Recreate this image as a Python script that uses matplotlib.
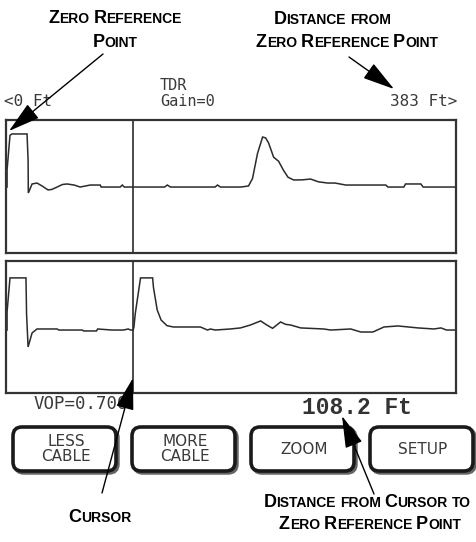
import matplotlib
import matplotlib.pyplot as plt
from matplotlib.patches import FancyBboxPatch

matplotlib.use('Agg')

W, H = 477, 542

# TDR traces: distance along cable (ft) and screen signal level (0-100)
top_ft = [0.9, 0.9, 3.4, 5.1, 17.9, 18.8, 19.0, 22.2, 26.4, 30.7, 35.8, 39.0, 43.5, 48.0, 52.0,
          58.0, 63.1, 71.7, 80.2, 81.0, 97.2, 99.0, 100.7, 135.0, 137.3, 139.9, 178.0, 180.0,
          182.5, 200.0, 206.4, 209.8, 214.1, 218.4, 221.0, 223.5, 227.8, 232.0, 236.3, 240.0,
          244.8, 252.0, 259.3, 266.0, 273.8, 280.0, 289.2, 323.3, 325.0, 338.6, 340.0, 353.1,
          355.0, 383.0]
top_lvl = [49.6, 62.4, 88.5, 89.5, 89.5, 70.0, 45.1, 51.9, 52.6, 50.4, 47.4, 47.8, 49.6, 51.5, 51.9,
           51.1, 49.6, 51.1, 51.1, 49.6, 49.6, 51.1, 49.6, 49.6, 51.1, 49.6, 49.6, 51.1,
           49.6, 49.6, 50.4, 56.0, 75.0, 87.2, 86.5, 82.7, 72.0, 69.0, 62.0, 57.0,
           54.9, 55.0, 55.6, 53.5, 52.6, 52.6, 51.1, 51.1, 49.6, 49.6, 51.9, 51.9,
           49.6, 49.6]

bot_ft = [0.9, 0.9, 3.4, 17.0, 17.5, 18.8, 22.2, 26.4, 43.5, 45.0, 65.0, 66.0, 77.0, 78.0, 90.0,
          100.0, 104.0, 106.0, 108.2, 108.9, 110.0, 114.5, 124.8, 125.5, 128.7, 132.0, 137.0,
          142.5, 165.5, 171.5, 174.0, 178.0, 191.0, 199.6, 208.0, 216.7, 222.0, 226.9, 233.7,
          238.0, 242.3, 250.8, 270.4, 276.4, 293.4, 302.0, 312.2, 318.0, 321.6, 333.5, 350.6,
          364.2, 370.2, 375.0, 383.0]
bot_lvl = [47.7, 61.4, 87.2, 87.2, 60.0, 34.9, 45.5, 48.5, 48.5, 47.7, 47.7, 47.0, 47.0, 48.5, 47.7,
           47.7, 48.5, 47.7, 47.7, 50.0, 60.0, 87.2, 87.2, 80.0, 62.9, 55.3, 51.0,
           50.0, 50.0, 47.7, 48.5, 47.7, 48.5, 49.3, 51.5, 54.6, 51.5, 49.0, 53.8,
           52.0, 51.5, 49.3, 48.5, 47.7, 48.5, 46.2, 46.2, 48.5, 50.0, 50.8, 49.3,
           48.5, 49.3, 47.7, 47.7]

start_ft = 0
end_ft = 383
cursor_ft = 108.2
vop = 0.700
gain = 0
buttons = ['LESS\nCABLE', 'MORE\nCABLE', 'ZOOM', 'SETUP']

ink = '#2b2b2b'
lcd = '#3a3a3a'

fig = plt.figure(figsize=(W / 100, H / 100), dpi=100)


def px_axes(x0, y0, x1, y1):
    return fig.add_axes([x0 / W, 1 - y1 / H, (x1 - x0) / W, (y1 - y0) / H])


def scope(ax, ft, lvl):
    ax.plot(ft, lvl, color=ink, lw=1.1, solid_joinstyle='miter')
    ax.axvline(cursor_ft, color=ink, lw=1.2)
    ax.set_xlim(start_ft, end_ft)
    ax.set_ylim(0, 100)
    ax.set_xticks([])
    ax.set_yticks([])
    for s in ax.spines.values():
        s.set_linewidth(1.6)
        s.set_color('#333333')


scope(px_axes(6, 120, 456, 253), top_ft, top_lvl)
scope(px_axes(6, 261, 456, 393), bot_ft, bot_lvl)

# overlay in pixel units for labels, callouts and buttons
ov = fig.add_axes([0, 0, 1, 1])
ov.set_xlim(0, W)
ov.set_ylim(H, 0)
ov.axis('off')

mono = 'DejaVu Sans Mono'
ov.text(4, 101, '<%d Ft' % start_ft, family=mono, fontsize=11.5, color=lcd, va='center')
ov.text(160, 86, 'TDR', family=mono, fontsize=11, color=lcd, va='center')
ov.text(160, 102, 'Gain=%d' % gain, family=mono, fontsize=11, color=lcd, va='center')
ov.text(457, 101, '%d Ft>' % end_ft, family=mono, fontsize=11.5, color=lcd, va='center', ha='right')
ov.text(34, 404, 'VOP=%.3f' % vop, family=mono, fontsize=12.5, color=lcd, va='center')
ov.text(302, 407, '%.1f Ft' % cursor_ft, family='Liberation Mono', fontweight='bold',
        fontsize=16.5, color='#333333', va='center')

# soft keys
for i, label in enumerate(buttons):
    x0 = 13 + i * 119
    shadow = FancyBboxPatch((x0 + 2, 429), 103, 44, boxstyle='round,pad=0,rounding_size=9',
                            fc='#666666', ec='#666666', lw=2.5)
    box = FancyBboxPatch((x0, 427), 103, 44, boxstyle='round,pad=0,rounding_size=9',
                         fc='white', ec='#1a1a1a', lw=2.6)
    ov.add_patch(shadow)
    ov.add_patch(box)
    ov.text(x0 + 53, 449, label, family='DejaVu Sans', fontsize=11, color=lcd,
            ha='center', va='center', linespacing=0.95)

renderer = fig.canvas.get_renderer()


def small_caps(x, y, text, big=13, small=10):
    # fake small caps: capitals at big size, lower case upper-cased at small size
    runs = []
    for ch in text:
        size = big if ch.isupper() else small
        if ch == ' ':
            runs.append([' ', 0])
        elif runs and runs[-1][1] == size:
            runs[-1][0] += ch
        else:
            runs.append([ch, size])
    arts = []
    widths = []
    for s, size in runs:
        if size == 0:
            arts.append(None)
            widths.append(big * 0.3)
            continue
        t = ov.text(0, y, s.upper(), fontsize=size, fontweight='bold', family='Liberation Sans',
                    va='baseline', ha='left', color='black')
        arts.append(t)
        widths.append(t.get_window_extent(renderer).width)
    cx = x - sum(widths) / 2
    for t, w in zip(arts, widths):
        if t is not None:
            t.set_x(cx)
        cx += w


small_caps(115, 23, 'Zero Reference')
small_caps(115, 47, 'Point')
small_caps(332, 24, 'Distance from')
small_caps(347, 47, 'Zero Reference Point')
small_caps(100, 522, 'Cursor')
small_caps(367, 507, 'Distance from Cursor to')
small_caps(370, 529, 'Zero Reference Point')

head = dict(arrowstyle='-|>,head_length=1.0,head_width=0.28', color='black', lw=1.0,
            mutation_scale=20, shrinkA=0, shrinkB=0)
ov.annotate('', xy=(9, 131), xytext=(103, 54), arrowprops=head)
ov.annotate('', xy=(394, 89), xytext=(349, 57), arrowprops=head)
ov.annotate('', xy=(133, 378), xytext=(102, 493), arrowprops=head)
ov.annotate('', xy=(342, 416), xytext=(374, 494), arrowprops=head)

fig.savefig('out.png', dpi=100)
